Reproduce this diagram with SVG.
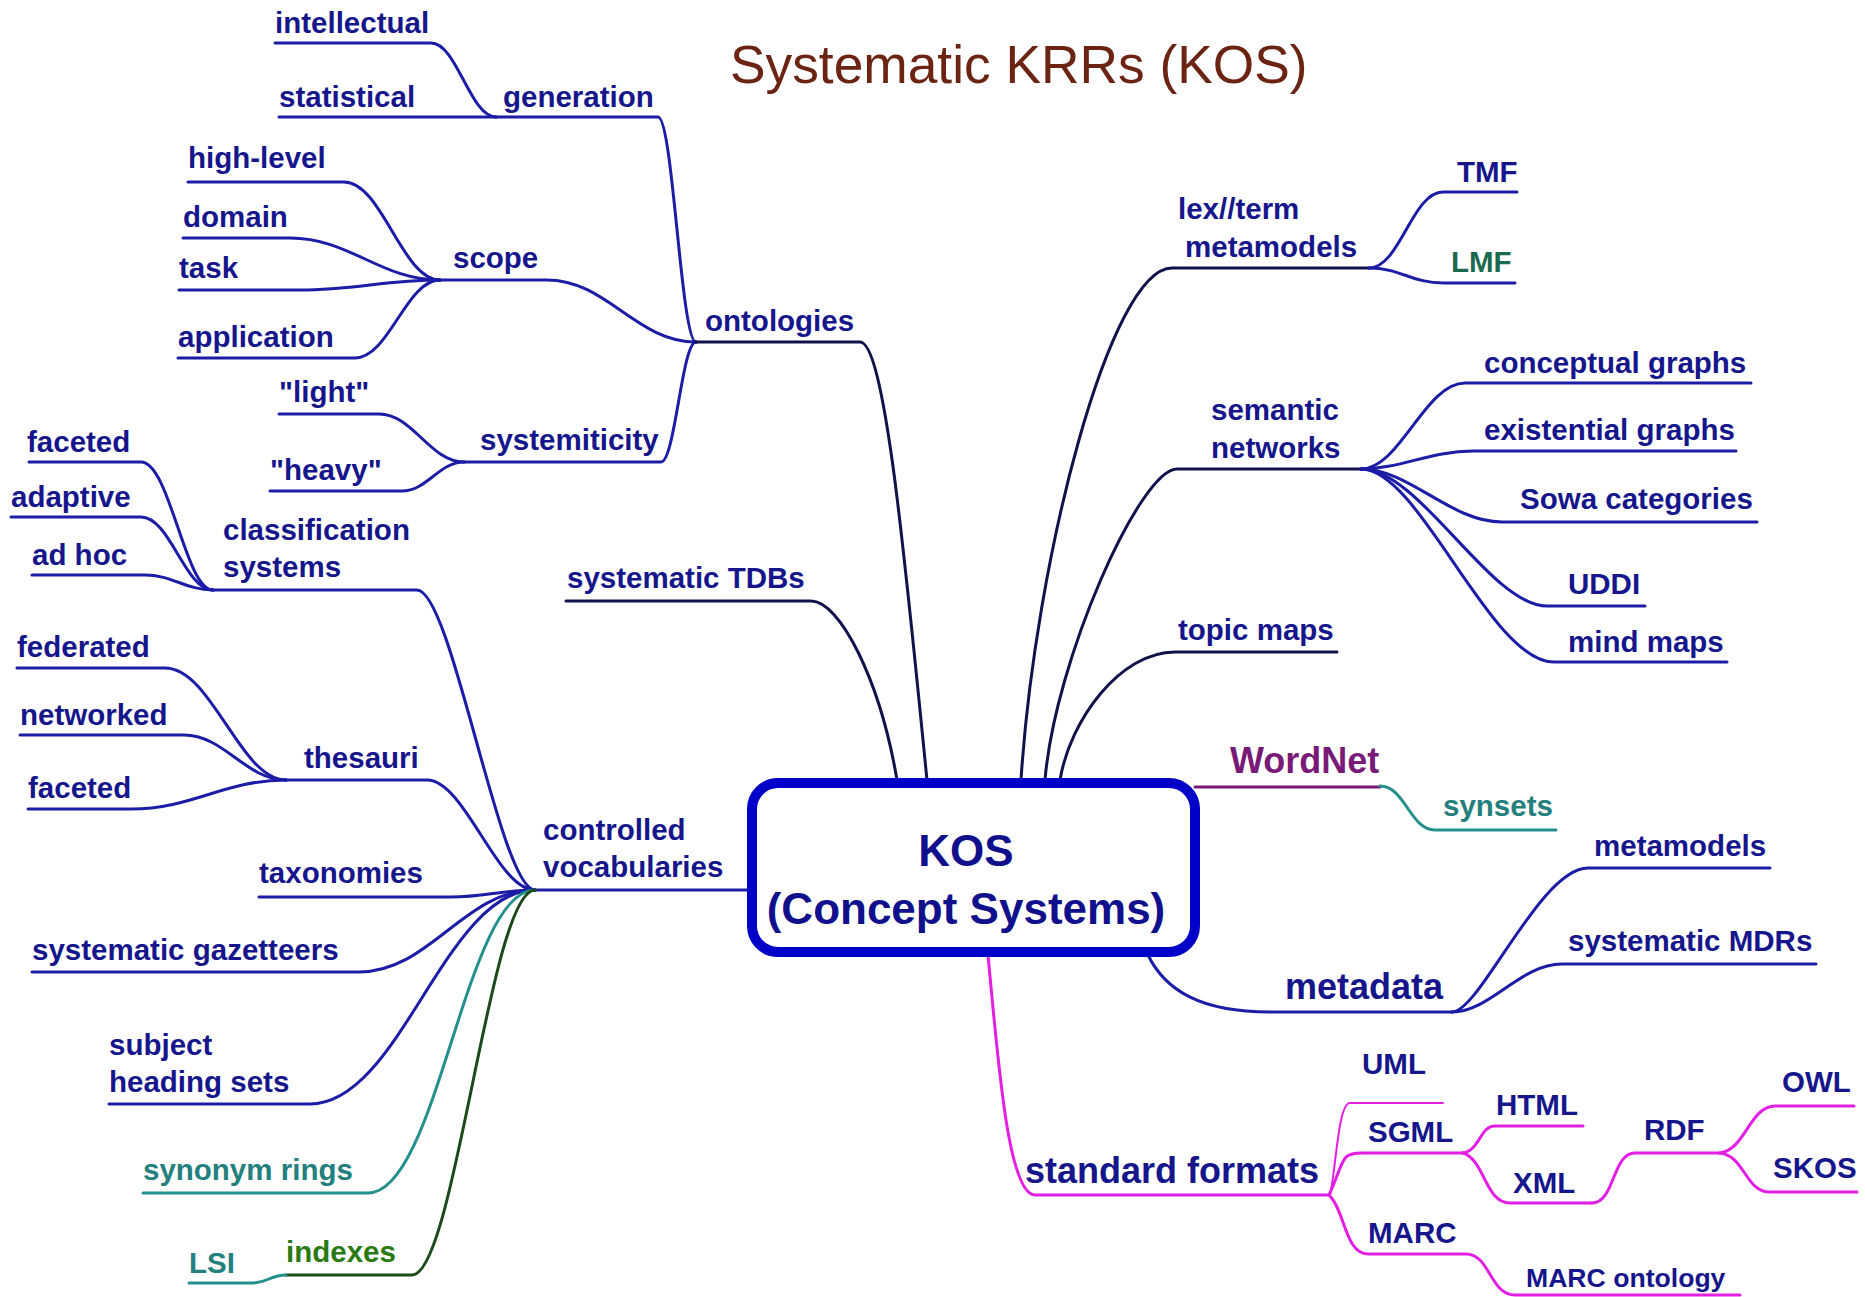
<svg xmlns="http://www.w3.org/2000/svg" width="1865" height="1297" viewBox="0 0 1865 1297">
<style>
text{font-family:"Liberation Sans",Arial,sans-serif;font-weight:bold;font-size:29.5px;fill:#16168c}
.big{font-size:36px}
.title{font-weight:normal;font-size:53.3px;fill:#6b2412}
.kos{font-size:44px;text-anchor:middle;fill:#10108c}
.teal{fill:#24807e}
.lmf{fill:#1a6a50}
.green{fill:#2a7a12}
.purple{fill:#7a1a78}
.small{font-size:26.6px}
path{fill:none;stroke-width:3;stroke-linecap:round}
.b{stroke:#1c1ca6}
.d{stroke:#12124a}
.t{stroke:#24908c}
.g{stroke:#1a4a1a}
.m{stroke:#e21fe2}
.p{stroke:#7a1a78}
.thin{stroke-width:2}
</style>
<rect width="1865" height="1297" fill="#ffffff"/>
<text class="title" x="730" y="83">Systematic KRRs (KOS)</text>

<g id="connectors">
<!-- ontologies -->
<path class="b" d="M275 43H431C457 43 470 117 496 117"/>
<path class="b" d="M279 117H496"/>
<path class="b" d="M496 117H658C673 117 681 342 696 342"/>
<path class="b" d="M188 182H344C382 182 402 280 440 280"/>
<path class="b" d="M183 238H290C350 238 380 280 440 280"/>
<path class="b" d="M179 290H300C356 290 384 280 440 280"/>
<path class="b" d="M178 358H355C389 358 406 280 440 280"/>
<path class="b" d="M440 280H547C607 280 636 342 696 342"/>
<path class="b" d="M279 414H379C413 414 430 462 464 462"/>
<path class="b" d="M270 491H402C427 491 439 462 464 462"/>
<path class="b" d="M464 462H661C675 462 682 342 696 342"/>
<path class="d" d="M696 342H860C885 342 905 560 927 780"/>
<path class="d" d="M566 601H811C840 601 880 680 897 780"/>
<!-- controlled vocabularies -->
<path class="b" d="M535 890H752"/>
<path class="b" d="M213 590H417C452 590 500 890 535 890"/>
<path class="b" d="M29 462H141C170 462 185 590 213 590"/>
<path class="b" d="M11 517H141C170 517 185 590 213 590"/>
<path class="b" d="M32 575H145C172 575 186 590 213 590"/>
<path class="b" d="M286 780H427C465 780 497 890 535 890"/>
<path class="b" d="M17 668H165C212 668 240 780 286 780"/>
<path class="b" d="M20 735H184C224 735 246 780 286 780"/>
<path class="b" d="M28 809H131C193 809 224 780 286 780"/>
<path class="b" d="M259 897H451C485 897 501 890 535 890"/>
<path class="b" d="M32 972H359C430 972 464 890 535 890"/>
<path class="b" d="M109 1104H310C400 1104 445 890 535 890"/>
<path class="t" d="M143 1193H368C438 1193 465 890 535 890"/>
<path class="g" d="M286 1275H412C455 1275 490 890 535 890"/>
<path class="t" d="M189 1283H252C268 1283 270 1275 286 1275"/>
<!-- lex//term -->
<path class="d" d="M1021 780C1035 560 1110 268 1172 268H1369"/>
<path class="b" d="M1369 268C1400 268 1412 192 1443 192H1517"/>
<path class="b" d="M1369 268C1400 268 1412 283 1443 283H1515"/>
<!-- semantic networks -->
<path class="d" d="M1045 780C1055 660 1140 469 1177 469H1361"/>
<path class="b" d="M1361 469C1400 469 1425 383 1465 383H1751"/>
<path class="b" d="M1361 469C1400 469 1430 451 1473 451H1736"/>
<path class="b" d="M1361 469C1410 469 1450 522 1502 522H1757"/>
<path class="b" d="M1361 469C1420 469 1490 606 1547 606H1645"/>
<path class="b" d="M1361 469C1420 469 1490 662 1554 662H1727"/>
<!-- topic maps -->
<path class="d" d="M1060 780C1070 720 1120 652 1175 652H1337"/>
<!-- WordNet -->
<path class="p" d="M1195 787H1380"/>
<path class="t" d="M1380 786C1405 786 1410 830 1435 830H1556"/>
<!-- metadata -->
<path class="b" d="M1148 955C1165 990 1200 1012 1270 1012H1452"/>
<path class="b" d="M1452 1012C1480 1012 1540 868 1588 868H1770"/>
<path class="b" d="M1452 1012C1490 1012 1520 964 1562 964H1816"/>
<!-- standard formats -->
<path class="m" d="M988 955C998 1060 1008 1195 1035 1195H1329"/>
<path class="m thin" d="M1330 1195C1336 1170 1338 1103 1350 1103H1443"/>
<path class="m" d="M1329 1195C1345 1160 1340 1153 1362 1153H1463"/>
<path class="m" d="M1463 1153C1480 1150 1480 1126 1495 1126H1583"/>
<path class="m" d="M1463 1153C1485 1160 1485 1203 1510 1203H1592"/>
<path class="m" d="M1592 1203C1615 1203 1612 1153 1635 1153H1720"/>
<path class="m" d="M1720 1153C1745 1150 1750 1106 1775 1106H1854"/>
<path class="m" d="M1720 1153C1745 1156 1745 1192 1770 1192H1857"/>
<path class="m" d="M1329 1195C1345 1210 1345 1254 1368 1254H1466C1490 1254 1490 1295 1515 1295H1740"/>
</g>

<g id="kos">
<rect x="752" y="783" width="443" height="169" rx="26" fill="#ffffff" stroke="#0000c8" stroke-width="10"/>
<text class="kos" x="966" y="866">KOS</text>
<text class="kos" x="966" y="924">(Concept Systems)</text>
</g>

<g id="ontologies"><text x="705" y="331">ontologies</text></g>
<g id="generation"><text x="503" y="107">generation</text></g>
<g id="intellectual"><text x="275" y="33">intellectual</text></g>
<g id="statistical"><text x="279" y="107">statistical</text></g>
<g id="scope"><text x="453" y="268">scope</text></g>
<g id="high-level"><text x="188" y="168">high-level</text></g>
<g id="domain"><text x="183" y="227">domain</text></g>
<g id="task"><text x="179" y="278">task</text></g>
<g id="application"><text x="178" y="347">application</text></g>
<g id="systemiticity"><text x="480" y="450">systemiticity</text></g>
<g id="light"><text x="279" y="402">"light"</text></g>
<g id="heavy"><text x="270" y="480">"heavy"</text></g>
<g id="systematic-tdbs"><text x="567" y="588">systematic TDBs</text></g>

<g id="controlled-vocabularies"><text x="543" y="840">controlled</text><text x="543" y="877">vocabularies</text></g>
<g id="classification-systems"><text x="223" y="540">classification</text><text x="223" y="577">systems</text></g>
<g id="faceted-1"><text x="27" y="452">faceted</text></g>
<g id="adaptive"><text x="11" y="507">adaptive</text></g>
<g id="ad-hoc"><text x="32" y="565">ad hoc</text></g>
<g id="thesauri"><text x="304" y="768">thesauri</text></g>
<g id="federated"><text x="17" y="657">federated</text></g>
<g id="networked"><text x="20" y="725">networked</text></g>
<g id="faceted-2"><text x="28" y="798">faceted</text></g>
<g id="taxonomies"><text x="259" y="883">taxonomies</text></g>
<g id="systematic-gazetteers"><text x="32" y="960">systematic gazetteers</text></g>
<g id="subject-heading-sets"><text x="109" y="1055">subject</text><text x="109" y="1092">heading sets</text></g>
<g id="synonym-rings"><text class="teal" x="143" y="1180">synonym rings</text></g>
<g id="indexes"><text class="green" x="286" y="1262">indexes</text></g>
<g id="lsi"><text class="teal" x="189" y="1273">LSI</text></g>

<g id="lex-term-metamodels"><text x="1178" y="219">lex//term</text><text x="1185" y="257">metamodels</text></g>
<g id="tmf"><text x="1457" y="182">TMF</text></g>
<g id="lmf"><text class="lmf" x="1451" y="272">LMF</text></g>
<g id="semantic-networks"><text x="1211" y="420">semantic</text><text x="1211" y="458">networks</text></g>
<g id="conceptual-graphs"><text x="1484" y="373">conceptual graphs</text></g>
<g id="existential-graphs"><text x="1484" y="440">existential graphs</text></g>
<g id="sowa-categories"><text x="1520" y="509">Sowa categories</text></g>
<g id="uddi"><text x="1568" y="594">UDDI</text></g>
<g id="mind-maps"><text x="1568" y="652">mind maps</text></g>
<g id="topic-maps"><text x="1178" y="640">topic maps</text></g>
<g id="wordnet"><text class="big purple" x="1230" y="773">WordNet</text></g>
<g id="synsets"><text class="teal" x="1443" y="816">synsets</text></g>
<g id="metadata"><text class="big" x="1285" y="999">metadata</text></g>
<g id="metamodels"><text x="1594" y="856">metamodels</text></g>
<g id="systematic-mdrs"><text x="1568" y="951">systematic MDRs</text></g>
<g id="standard-formats"><text class="big" x="1025" y="1183">standard formats</text></g>
<g id="uml"><text x="1362" y="1074">UML</text></g>
<g id="sgml"><text x="1368" y="1142">SGML</text></g>
<g id="html"><text x="1496" y="1115">HTML</text></g>
<g id="xml"><text x="1513" y="1193">XML</text></g>
<g id="rdf"><text x="1644" y="1140">RDF</text></g>
<g id="owl"><text x="1782" y="1092">OWL</text></g>
<g id="skos"><text x="1773" y="1178">SKOS</text></g>
<g id="marc"><text x="1368" y="1243">MARC</text></g>
<g id="marc-ontology"><text class="small" x="1526" y="1287">MARC ontology</text></g>
</svg>
